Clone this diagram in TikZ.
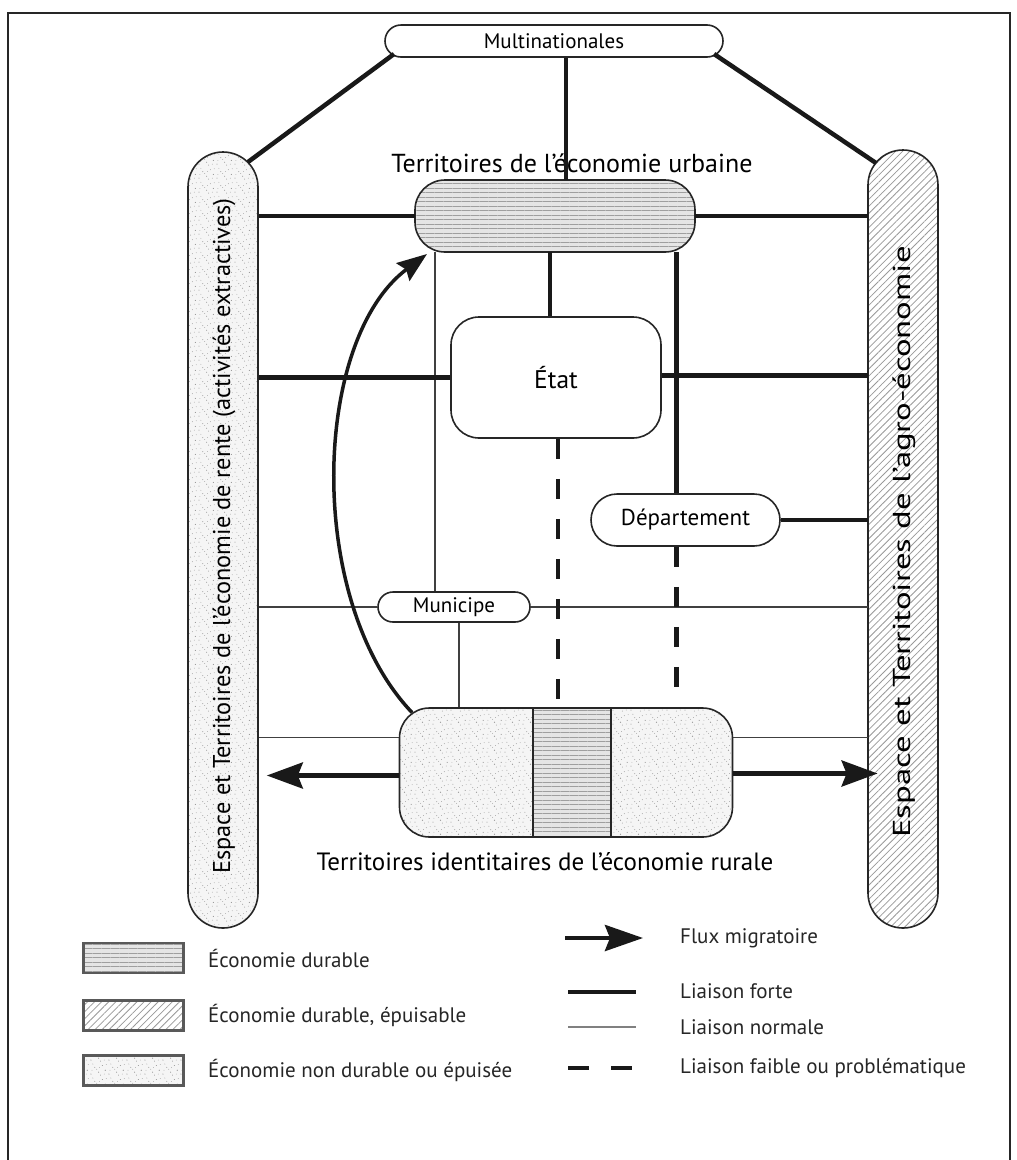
\documentclass[tikz,border=0pt]{standalone}
\usepackage{fontspec}
\setmainfont{PT Sans}
\usetikzlibrary{patterns,patterns.meta,arrows.meta,calc}
\pgfdeclarepatternformonly{stipple}{\pgfpointorigin}{\pgfpoint{18pt}{14pt}}{\pgfpoint{18pt}{14pt}}{%
  \pgfpathcircle{\pgfpoint{1pt}{2pt}}{0.6pt}%
  \pgfpathcircle{\pgfpoint{5pt}{9pt}}{0.5pt}%
  \pgfpathcircle{\pgfpoint{9pt}{4pt}}{0.6pt}%
  \pgfpathcircle{\pgfpoint{13pt}{11pt}}{0.5pt}%
  \pgfpathcircle{\pgfpoint{16pt}{6pt}}{0.6pt}%
  \pgfpathcircle{\pgfpoint{3pt}{12.5pt}}{0.45pt}%
  \pgfpathcircle{\pgfpoint{11pt}{1pt}}{0.5pt}%
  \pgfpathcircle{\pgfpoint{7pt}{7pt}}{0.45pt}%
  \pgfpathcircle{\pgfpoint{15pt}{2pt}}{0.4pt}%
  \pgfpathcircle{\pgfpoint{10pt}{9pt}}{0.4pt}%
  \pgfpathcircle{\pgfpoint{2pt}{6pt}}{0.4pt}%
  \pgfpathcircle{\pgfpoint{17pt}{12pt}}{0.4pt}%
  \pgfusepath{fill}}
\begin{document}
\begin{tikzpicture}[x=1pt,y=-1pt,
  box/.style={draw=black!85, line width=1.6pt, inner sep=0pt, text=black},
  strong/.style={line width=4.5pt, draw=black!90},
  normal/.style={line width=1.8pt, draw=black!75},
  weak/.style={line width=4.5pt, draw=black!90, dash pattern=on 20pt off 20pt},
  flux/.style={line width=4.5pt, draw=black!90, -{Stealth[length=36pt,width=26pt,inset=5pt]}},
  durable/.style={preaction={fill=gray!20}, pattern={Lines[angle=0,distance=4.5pt,line width=0.9pt]}, pattern color=gray!75},
  epuisable/.style={preaction={fill=white}, pattern={Lines[angle=45,distance=5pt,line width=0.8pt]}, pattern color=gray!80},
  nondurable/.style={preaction={fill=gray!8}, pattern=stipple, pattern color=gray!85},
  lbl/.style={inner sep=0pt, text=black, font=\fontsize{25}{30}\selectfont},
  lgd/.style={lbl, anchor=west, text=black!85, font=\fontsize{21}{25}\selectfont}
]
\useasboundingbox (0,0) rectangle (1017,1160);
\fill[white] (0,0) rectangle (1017,1160);
\draw[line width=1.5pt, black!85] (8,1175) -- (8,13) -- (1010,13) -- (1010,1175);

% nodes
\node[box, fill=white, rounded corners=16pt, minimum width=338pt, minimum height=32pt, font=\fontsize{21}{24}\selectfont] (multi) at (554,41) {Multinationales};
\node[box, nondurable, rounded corners=35pt, minimum width=70pt, minimum height=776pt] (lp) at (223,540) {};
\node[lbl, rotate=90, font=\fontsize{24.3}{28}\selectfont] (lpt) at (224,536) {Espace et Territoires de l'économie de rente (activités extractives)};
\node[box, epuisable, rounded corners=35pt, minimum width=70pt, minimum height=778pt] (rp) at (903,539) {};
\node[lbl, rotate=90, font=\fontsize{24.5}{28}\selectfont] (rpt) at (904,542) {\scalebox{1.42}[1]{Espace et Territoires de l'agro-économie}};
\node[box, durable, rounded corners=30pt, minimum width=280pt, minimum height=72pt] (urban) at (555,216) {};
\node[lbl, anchor=base, font=\fontsize{26}{30}\selectfont] (urbant) at (572,172) {Territoires de l'économie urbaine};
\node[box, fill=white, rounded corners=28pt, minimum width=210pt, minimum height=121pt, font=\fontsize{25.5}{30}\selectfont] (etat) at (556,377.5) {État};
\node[box, fill=white, rounded corners=26pt, minimum width=189pt, minimum height=52pt, font=\fontsize{23}{26}\selectfont] (dept) at (685.5,520) {Département};
\node[box, fill=white, rounded corners=15pt, minimum width=152pt, minimum height=30pt, font=\fontsize{21}{24}\selectfont] (muni) at (454,607) {Municipe};
\node[box, nondurable, rounded corners=30pt, minimum width=333pt, minimum height=129pt] (rural) at (566,772.5) {};
\node[box, durable, line width=2pt, minimum width=78pt, minimum height=129pt] (strip) at (572,772.5) {};
\node[lbl, anchor=base] (ruralt) at (545,870) {Territoires identitaires de l'économie rurale};

% helper coordinates
\coordinate (c1) at ($(multi.center)+(-160,13)$);
\coordinate (c2) at ($(lp.center)+(25,-378)$);
\coordinate (c3) at ($(multi.center)+(160,13)$);
\coordinate (c4) at ($(rp.center)+(-27,-376)$);
\coordinate (mv) at ($(multi.south)+(12,0)$);
\coordinate (ev) at ($(etat.north)+(-6,0)$);
\coordinate (m1) at ($(muni.north)+(-19,0)$);
\coordinate (d1) at ($(dept.north)+(-9,0)$);
\coordinate (e1) at ($(etat.south)+(2,0)$);
\coordinate (m2) at ($(muni.south)+(5,0)$);
\coordinate (r1) at ($(rural.west)+(0,-35)$);
\coordinate (r2) at ($(rural.east)+(0,-35)$);
\coordinate (a0) at ($(rural.center)+(-154,-60)$);
\coordinate (a1) at ($(urban.center)+(-128,38)$);

% connectors
\draw[strong] (c1) -- (c2);
\draw[strong] (c3) -- (c4);
\draw[strong] (mv) -- (mv |- urban.north);
\draw[strong] (urban.west) -- (urban.west -| lp.east);
\draw[strong] (urban.east) -- (urban.east -| rp.west);
\draw[strong] (ev) -- (ev |- urban.south);
\draw[normal] (m1) -- (m1 |- urban.south);
\draw[strong] (etat.west) -- (etat.west -| lp.east);
\draw[strong] ($(etat.east)+(0,-2)$) -- ($(etat.east -| rp.west)+(0,-2)$);
\draw[strong] (d1) -- (d1 |- urban.south);
\draw[strong] (dept.east) -- (dept.east -| rp.west);
\draw[normal] (muni.west) -- (muni.west -| lp.east);
\draw[normal] (muni.east) -- (muni.east -| rp.west);
\draw[normal] (m2) -- (m2 |- rural.north);
\draw[weak] (e1) -- (e1 |- rural.north);
\draw[weak] (d1 |- dept.south) -- ($(d1 |- rural.north)+(0,-18)$);
\draw[normal] (r1) -- (r1 -| lp.east);
\draw[normal] (r2) -- (r2 -| rp.west);
\draw[flux] ($(rural.west)+(0,3)$) -- ($(rural.west -| lp.east)+(8,3)$);
\draw[flux] ($(rural.east)+(0,1)$) -- ($(rural.east -| rp.west)+(10,1)$);
\draw[line width=3.5pt, draw=black!90, -{Stealth[length=30pt,width=22pt,inset=4pt]}] (a0) .. controls (305,600) and (312,340) .. (a1);

% legend
\node[box, durable, draw=black!65, line width=2.5pt, minimum width=100pt, minimum height=30pt] (lg1) at (133.5,958) {};
\node[box, epuisable, draw=black!65, line width=2.5pt, minimum width=100pt, minimum height=30pt] (lg2) at (133.5,1015.5) {};
\node[box, nondurable, draw=black!65, line width=2.5pt, minimum width=100pt, minimum height=30pt] (lg3) at (133.5,1070.5) {};
\node[lgd] (lg1t) at (208,958) {Économie durable};
\node[lgd] (lg2t) at (208,1015.5) {Économie durable, épuisable};
\node[lgd] (lg3t) at (208,1070.5) {Économie non durable ou épuisée};

\coordinate (la1) at (565,938);
\coordinate (la2) at (643,938);
\coordinate (lb1) at (568,992);
\coordinate (lb2) at (636,992);
\coordinate (lc1) at (568,1027);
\coordinate (lc2) at (636,1027);
\coordinate (ld1) at (568,1068);
\coordinate (ld2) at (632,1068);
\draw[line width=4.5pt, draw=black!90, -{Stealth[length=38pt,width=26pt,inset=5pt]}] (la1) -- (la2);
\draw[strong] (lb1) -- (lb2);
\draw[line width=1.8pt, draw=black!50] (lc1) -- (lc2);
\draw[line width=4.5pt, draw=black!90, dash pattern=on 21pt off 22pt] (ld1) -- (ld2);
\node[lgd] (lat) at (680,938) {Flux migratoire};
\node[lgd] (lbt) at (680,991) {Liaison forte};
\node[lgd] (lct) at (680,1027) {Liaison normale};
\node[lgd] (ldt) at (680,1068) {Liaison faible ou problématique};
\end{tikzpicture}
\end{document}
